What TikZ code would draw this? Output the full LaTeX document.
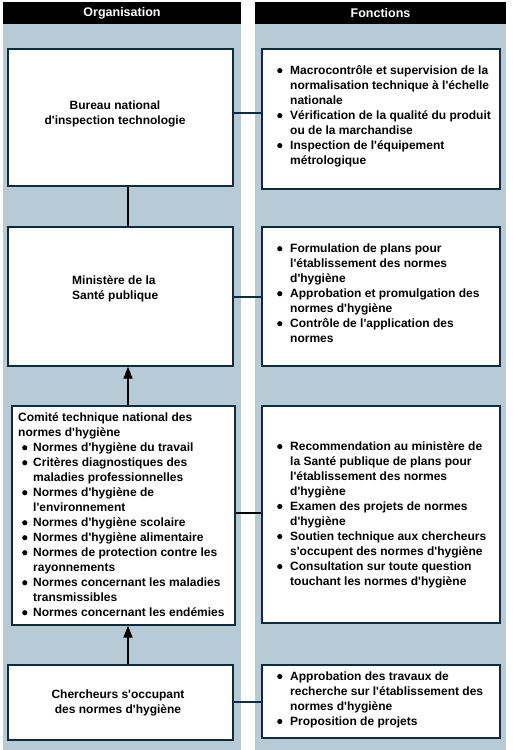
\documentclass[tikz,border=0pt]{standalone}
\usepackage{fontspec}
\setmainfont{Liberation Sans}[Ligatures=TeXOff]
\usetikzlibrary{arrows.meta}
\definecolor{colbg}{HTML}{B6CBD6}
\definecolor{boxline}{HTML}{0E2B40}
\newcommand\dotb{\tikz[baseline=0pt,x=1cm,y=1cm]\fill[black] (2.6pt,3.6pt) circle[radius=2.6pt];}
\newcommand\bul{\makebox[13pt][l]{\dotb}}
\newcommand\ind{\hspace*{13pt}}
\newcommand\bulc{\hspace*{4pt}\makebox[11pt][l]{\dotb}}
\newcommand\indc{\hspace*{15pt}}
\begin{document}
\begin{tikzpicture}[x=1pt,y=-1pt,
  column/.style={fill=colbg, draw=none},
  header/.style={fill=black, text=white, inner sep=0pt, font=\fontsize{12.5}{15}\selectfont\bfseries},
  box/.style={draw=boxline, line width=1.3pt, fill=white, inner sep=0pt},
  txt/.style={inner sep=0pt, font=\fontsize{12}{15}\selectfont\bfseries},
  conn/.style={draw=boxline, line width=1.3pt},
  arr/.style={draw=black, line width=1.3pt, -{Triangle[width=9pt,length=12pt]}}
]
\useasboundingbox (0,0) rectangle (512,750);
\fill[column] (3,2) rectangle (241,750);
\fill[column] (255,2) rectangle (506,750);
\node[header, minimum width=238pt, minimum height=22pt] (h1) at (122,13) {Organisation};
\node[header, minimum width=251pt, minimum height=22pt] (h2) at (380.5,13) {Fonctions};

% left boxes
\node[box, minimum width=225pt, minimum height=137pt] (bureau) at (120.5,117.5) {};
\node[box, minimum width=225pt, minimum height=139pt] (minist) at (120.5,296.5) {};
\node[box, minimum width=223pt, minimum height=219pt] (comite) at (123.5,515.5) {};
\node[box, minimum width=225pt, minimum height=75pt] (cherch) at (120.5,702.5) {};

% right boxes
\node[box, minimum width=238pt, minimum height=140pt] (r1) at (381,119) {};
\node[box, minimum width=238pt, minimum height=139pt] (r2) at (381,296.5) {};
\node[box, minimum width=238pt, minimum height=217pt] (r3) at (381,514.5) {};
\node[box, minimum width=238pt, minimum height=73pt] (r4) at (381,701.5) {};

% texts left
\node[txt, align=center] (tbureau) at (115,113.5) {Bureau national\\d'inspection technologie};
\node[txt, align=left, anchor=west] (tminist) at (72,288.5) {Ministère de la\\Santé publique};
\node[txt, align=left, anchor=west] (tcomite) at (18,514.5) {Comité technique national des\\
normes d'hygiène\\
\bulc Normes d'hygiène du travail\\
\bulc Critères diagnostiques des\\
\indc maladies professionnelles\\
\bulc Normes d'hygiène de\\
\indc l'environnement\\
\bulc Normes d'hygiène scolaire\\
\bulc Normes d'hygiène alimentaire\\
\bulc Normes de protection contre les\\
\indc rayonnements\\
\bulc Normes concernant les maladies\\
\indc transmissibles\\
\bulc Normes concernant les endémies};
\node[txt, align=center] (tcherch) at (118,702.5) {Chercheurs s'occupant\\des normes d'hygiène};

% texts right
\node[txt, align=left, anchor=west] (t1) at (277,116) {\bul Macrocontrôle et supervision de la\\
\ind normalisation technique à l'échelle\\
\ind nationale\\
\bul Vérification de la qualité du produit\\
\ind ou de la marchandise\\
\bul Inspection de l'équipement\\
\ind métrologique};
\node[txt, align=left, anchor=west] (t2) at (277,293) {\bul Formulation de plans pour\\
\ind l'établissement des normes\\
\ind d'hygiène\\
\bul Approbation et promulgation des\\
\ind normes d'hygiène\\
\bul Contrôle de l'application des\\
\ind normes};
\node[txt, align=left, anchor=west] (t3) at (277,514.5) {\bul Recommendation au ministère de\\
\ind la Santé publique de plans pour\\
\ind l'établissement des normes\\
\ind d'hygiène\\
\bul Examen des projets de normes\\
\ind d'hygiène\\
\bul Soutien technique aux chercheurs\\
\ind s'occupent des normes d'hygiène\\
\bul Consultation sur toute question\\
\ind touchant les normes d'hygiène};
\node[txt, align=left, anchor=west] (t4) at (277,699.5) {\bul Approbation des travaux de\\
\ind recherche sur l'établissement des\\
\ind normes d'hygiène\\
\bul Proposition de projets};

% connectors
\coordinate (vx) at (128,0);
\draw[conn, draw=black] (bureau.south -| vx) -- (minist.north -| vx);
\draw[arr] (comite.north -| vx) -- (minist.south -| vx);
\draw[arr] (cherch.north -| vx) -- (comite.south -| vx);

\coordinate (c1) at (0,113);
\draw[conn] (bureau.east |- c1) -- (r1.west |- c1);
\coordinate (c2) at (0,297);
\draw[conn] (minist.east |- c2) -- (r2.west |- c2);
\coordinate (c3) at (0,513);
\draw[conn, draw=black] (comite.east |- c3) -- (r3.west |- c3);
\coordinate (c4) at (0,702);
\draw[conn] (cherch.east |- c4) -- (r4.west |- c4);
\end{tikzpicture}
\end{document}
